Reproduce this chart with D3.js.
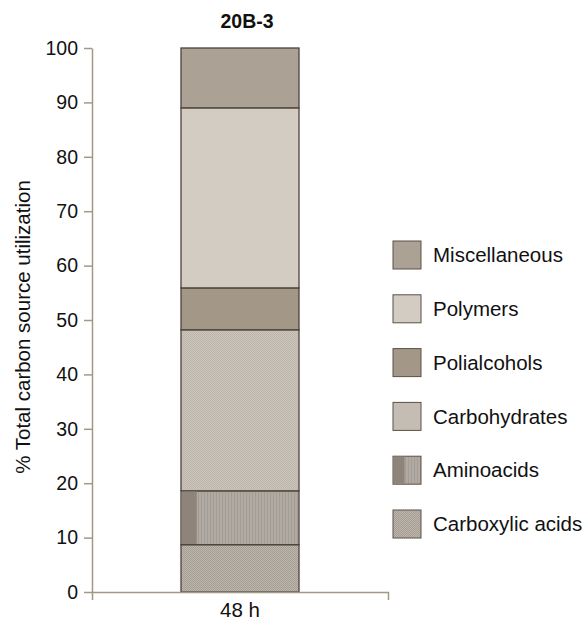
<!DOCTYPE html>
<html><head><meta charset="utf-8">
<script src="https://cdn.jsdelivr.net/npm/d3@7"></script>
<style>body{margin:0;background:#fff;} text{font-family:"Liberation Sans",Arial,sans-serif;}</style>
</head><body>
<svg id="c" width="585" height="622"></svg>
<script>
const categories = ["48 h"];
const series = ["Carboxylic acids","Aminoacids","Carbohydrates","Polialcohols","Polymers","Miscellaneous"];
const values = [8.7, 9.9, 29.6, 7.7, 33.1, 11.0];
const yTicks = [0,10,20,30,40,50,60,70,80,90,100];
const title = "20B-3";
const yLabel = "% Total carbon source utilization";

const fills = {
  "Carboxylic acids": "url(#pCarbox)",
  "Aminoacids": "url(#pAmino)",
  "Carbohydrates": "url(#pCarbo)",
  "Polialcohols": "#a39787",
  "Polymers": "#d3ccc3",
  "Miscellaneous": "#aba195"
};

const svg = d3.select("#c");
const defs = svg.append("defs");
function checker(id, a, b) {
  const p = defs.append("pattern").attr("id", id).attr("width", 2).attr("height", 2).attr("patternUnits", "userSpaceOnUse");
  p.append("rect").attr("width", 2).attr("height", 2).attr("fill", a);
  p.append("rect").attr("width", 1).attr("height", 1).attr("fill", b);
  p.append("rect").attr("x", 1).attr("y", 1).attr("width", 1).attr("height", 1).attr("fill", b);
}
checker("pCarbo", "#cdc6bc", "#bcb4aa");
checker("pCarbox", "#bdb6ad", "#a69e95");
const pa = defs.append("pattern").attr("id", "pAmino").attr("width", 3).attr("height", 3).attr("patternUnits", "userSpaceOnUse");
pa.append("rect").attr("width", 3).attr("height", 3).attr("fill", "#b0aaa3");
pa.append("rect").attr("width", 1).attr("height", 3).attr("fill", "#a49d96");

const x = d3.scaleBand().domain(categories).range([92, 388]).paddingInner(0).paddingOuter(0.3);
const y = d3.scaleLinear().domain([0, 100]).range([592, 48]);
const axisColor = "#a39888";
const fontFam = "Liberation Sans, Arial, sans-serif";

// bars
let cum = 0;
const stacked = series.map((s, i) => { const d = {name: s, y0: cum, y1: cum + values[i]}; cum += values[i]; return d; });
const bw = 118;
const bx = x(categories[0]) + x.bandwidth() / 2 - bw / 2;
svg.selectAll("rect.seg").data(stacked).enter().append("rect").attr("class", "seg")
  .attr("x", bx).attr("width", bw)
  .attr("y", d => y(d.y1)).attr("height", d => y(d.y0) - y(d.y1))
  .attr("fill", d => fills[d.name]).attr("stroke", "#4d4339").attr("stroke-width", 1.3);
// darker stripe in aminoacids
const am = stacked[1];
svg.append("rect").attr("x", bx + 0.7).attr("width", 15).attr("y", y(am.y1) + 0.7).attr("height", y(am.y0) - y(am.y1) - 1.4).attr("fill", "#8e8479");

// y axis
const ya = svg.append("g").attr("transform", "translate(92,0)")
  .call(d3.axisLeft(y).tickValues(yTicks).tickSize(8).tickSizeOuter(0));
ya.select(".domain").attr("stroke", axisColor).attr("stroke-width", 1.5);
ya.selectAll(".tick line").attr("stroke", axisColor).attr("stroke-width", 1.5);
ya.selectAll(".tick text").attr("fill", "#111").attr("font-size", 19.5).attr("x", -14)
  .style("font-family", fontFam);

// x axis
const xa = svg.append("g").attr("transform", "translate(0,592)")
  .call(d3.axisBottom(x).tickSize(0).tickSizeOuter(8));
xa.select(".domain").attr("stroke", axisColor).attr("stroke-width", 1.5);
xa.selectAll(".tick text").attr("fill", "#111").attr("font-size", 20.5).attr("y", 25).attr("dy", 0)
  .style("font-family", fontFam);

// title
svg.append("text").attr("x", 247).attr("y", 28).attr("text-anchor", "middle")
  .attr("font-size", 19.5).attr("font-weight", "bold").attr("fill", "#111").text(title);

// y label
svg.append("text").attr("transform", "translate(30,327) rotate(-90)")
  .attr("text-anchor", "middle").attr("font-size", 20.5).attr("fill", "#111").text(yLabel);

// legend
const legendOrder = series.slice().reverse();
const lg = svg.selectAll("g.lg").data(legendOrder).enter().append("g").attr("class", "lg")
  .attr("transform", (d, i) => "translate(393," + (241 + i * 53.8) + ")");
lg.append("rect").attr("width", 28).attr("height", 28).attr("fill", d => fills[d])
  .attr("stroke", "#5a5046").attr("stroke-width", 1);
lg.filter(d => d === "Aminoacids").append("rect").attr("x", 0.5).attr("y", 0.5).attr("width", 11).attr("height", 27).attr("fill", "#8e8479");
lg.append("text").attr("x", 40).attr("y", 14).attr("dy", "0.35em").attr("font-size", 20.5).attr("fill", "#111").text(d => d);
</script>
</body></html>
